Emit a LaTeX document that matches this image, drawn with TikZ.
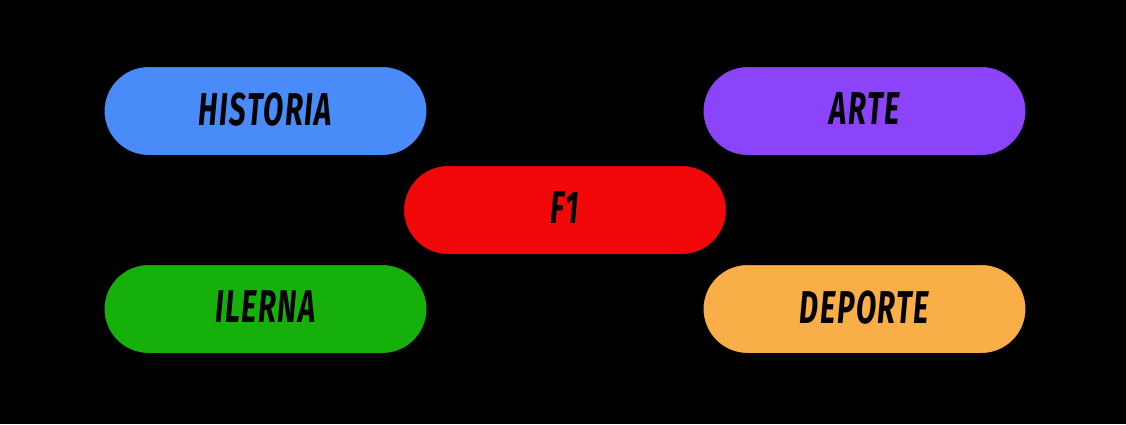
\documentclass[tikz,border=0pt]{standalone}
\usepackage{fontspec}
\newfontfamily\pillfont[FakeStretch=0.64,LetterSpace=3.5]{Fira Sans}
\definecolor{cblue}{RGB}{74,139,250}
\definecolor{cpurple}{RGB}{139,68,250}
\definecolor{cred}{RGB}{242,8,8}
\definecolor{cgreen}{RGB}{22,176,11}
\definecolor{corange}{RGB}{250,174,72}
\tikzset{
  pill/.style={draw=black, line width=5pt, rounded corners=46.5pt,
    minimum width=327pt, minimum height=93pt, inner sep=0pt,
    font=\pillfont\bfseries\itshape\fontsize{46}{46}\selectfont, text=black}
}
\begin{document}
\begin{tikzpicture}[x=1pt,y=-1pt]
\fill[black] (0,0) rectangle (1126,424);
\useasboundingbox (0,0) rectangle (1126,424);
\node[pill, fill=cblue] (historia) at (265.5,111) {\raisebox{4pt}{HISTORIA}};
\node[pill, fill=cpurple] (arte) at (864.5,111) {\raisebox{4pt}{ARTE}};
\node[pill, fill=cred] (f1) at (565,210) {\raisebox{4pt}{F1}};
\node[pill, fill=cgreen] (ilerna) at (265.5,309) {\raisebox{4pt}{ILERNA}};
\node[pill, fill=corange] (deporte) at (864.5,309) {\raisebox{4pt}{DEPORTE}};
\end{tikzpicture}
\end{document}
